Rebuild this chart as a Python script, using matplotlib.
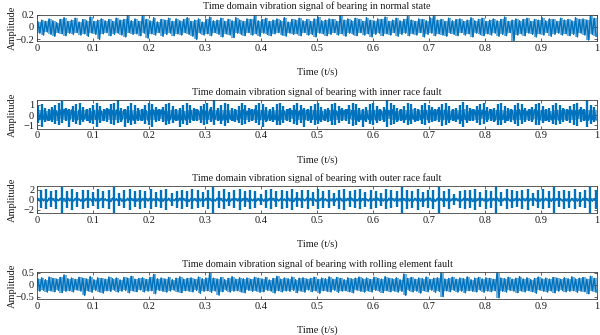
import numpy as np
import matplotlib
matplotlib.use("Agg")
import matplotlib.pyplot as plt
from matplotlib.ticker import FuncFormatter

plt.rcParams["font.family"] = ["Liberation Serif", "DejaVu Serif"]

LINE = "#0072BD"

titles = [
    "Time domain vibration signal of bearing in normal state",
    "Time domain vibration signal of bearing with inner race fault",
    "Time domain vibration signal of bearing with outer race fault",
    "Time domain vibration signal of bearing with rolling element fault",
]
xticks = [0, 0.1, 0.2, 0.3, 0.4, 0.5, 0.6, 0.7, 0.8, 0.9, 1]
yticks = [[-0.2, 0, 0.2], [-1, 0, 1], [-2, 0, 2], [-0.5, 0, 0.5]]
ylims = [(-0.225, 0.2), (-1.33, 1.43), (-2.6, 2.65), (-0.6, 0.53)]

# ---- normal state: positive / negative extremes per 1/150 s window ----
normal_hi = [
    0.08, 0.11, 0.09, 0.13, 0.10, 0.07, 0.12, 0.15, 0.09, 0.11,
    0.14, 0.08, 0.12, 0.10, 0.16, 0.09, 0.11, 0.13, 0.10, 0.12,
    0.09, 0.14, 0.11, 0.12, 0.19, 0.10, 0.13, 0.09, 0.20, 0.12,
    0.10, 0.15, 0.08, 0.12, 0.11, 0.14, 0.09, 0.13, 0.10, 0.12,
    0.15, 0.09, 0.11, 0.13, 0.08, 0.12, 0.16, 0.10, 0.11, 0.14,
    0.09, 0.12, 0.10, 0.15, 0.11, 0.09, 0.13, 0.12, 0.19, 0.10,
    0.12, 0.14, 0.09, 0.11, 0.13, 0.10, 0.15, 0.08, 0.12, 0.11,
    0.14, 0.10, 0.12, 0.09, 0.13, 0.16, 0.10, 0.11, 0.13, 0.12,
    0.09, 0.20, 0.11, 0.13, 0.10, 0.14, 0.12, 0.09, 0.15, 0.11,
    0.10, 0.13, 0.12, 0.16, 0.09, 0.11, 0.14, 0.10, 0.12, 0.17,
    0.11, 0.09, 0.13, 0.12, 0.10, 0.15, 0.20, 0.11, 0.12, 0.09,
    0.14, 0.10, 0.12, 0.13, 0.09, 0.11, 0.15, 0.10, 0.12, 0.14,
    0.09, 0.11, 0.13, 0.10, 0.12, 0.16, 0.09, 0.11, 0.13, 0.10,
    0.12, 0.14, 0.09, 0.12, 0.11, 0.15, 0.10, 0.13, 0.12, 0.09,
    0.14, 0.11, 0.12, 0.10, 0.15, 0.12, 0.13, 0.11, 0.20, 0.14,
]
normal_lo = [
    -0.10, -0.13, -0.08, -0.12, -0.15, -0.09, -0.11, -0.14, -0.10, -0.12,
    -0.09, -0.13, -0.11, -0.15, -0.10, -0.12, -0.20, -0.11, -0.09, -0.14,
    -0.12, -0.10, -0.13, -0.16, -0.09, -0.12, -0.11, -0.14, -0.10, -0.18,
    -0.11, -0.13, -0.09, -0.15, -0.12, -0.10, -0.14, -0.11, -0.13, -0.09,
    -0.12, -0.15, -0.20, -0.10, -0.13, -0.11, -0.14, -0.09, -0.12, -0.16,
    -0.11, -0.13, -0.17, -0.10, -0.12, -0.14, -0.09, -0.13, -0.11, -0.15,
    -0.10, -0.12, -0.14, -0.11, -0.09, -0.13, -0.15, -0.10, -0.12, -0.11,
    -0.14, -0.09, -0.13, -0.12, -0.16, -0.10, -0.11, -0.14, -0.12, -0.09,
    -0.13, -0.11, -0.15, -0.10, -0.12, -0.14, -0.09, -0.13, -0.11, -0.16,
    -0.12, -0.10, -0.14, -0.11, -0.13, -0.09, -0.15, -0.12, -0.10, -0.14,
    -0.11, -0.13, -0.09, -0.16, -0.12, -0.10, -0.14, -0.11, -0.13, -0.15,
    -0.10, -0.12, -0.14, -0.09, -0.13, -0.11, -0.16, -0.10, -0.12, -0.14,
    -0.11, -0.13, -0.10, -0.15, -0.12, -0.14, -0.09, -0.22, -0.13, -0.11,
    -0.14, -0.10, -0.12, -0.16, -0.11, -0.13, -0.09, -0.15, -0.12, -0.10,
    -0.13, -0.11, -0.14, -0.12, -0.16, -0.10, -0.13, -0.21, -0.12, -0.15,
]

# ---- inner race fault: background band and impacts ----
inner_hi = [
    0.45, 0.50, 0.40, 0.48, 0.52, 0.42, 0.47, 0.55, 0.44, 0.49,
    0.41, 0.50, 0.46, 0.53, 0.43, 0.48, 0.51, 0.40, 0.47, 0.54,
    0.44, 0.49, 0.42, 0.50, 0.46, 0.52, 0.41, 0.48, 0.55, 0.43,
    0.47, 0.50, 0.44, 0.51, 0.40, 0.48, 0.53, 0.45, 0.49, 0.42,
    0.50, 0.46, 0.54, 0.43, 0.48, 0.41, 0.52, 0.47, 0.44, 0.50,
    0.45, 0.53, 0.42, 0.49, 0.46, 0.51, 0.40, 0.48, 0.55, 0.44,
    0.47, 0.50, 0.43, 0.52, 0.45, 0.49, 0.41, 0.54, 0.46, 0.48,
    0.42, 0.51, 0.47, 0.44, 0.50, 0.53, 0.43, 0.48, 0.45, 0.52,
    0.40, 0.49, 0.46, 0.55, 0.44, 0.47, 0.51, 0.42, 0.50, 0.45,
    0.48, 0.53, 0.41, 0.49, 0.46, 0.52, 0.43, 0.50, 0.47, 0.44,
    0.54, 0.42, 0.48, 0.51, 0.45, 0.49, 0.40, 0.53, 0.46, 0.50,
    0.43, 0.47, 0.52, 0.44, 0.55, 0.41, 0.48, 0.50, 0.46, 0.49,
    0.42, 0.53, 0.45, 0.47, 0.51, 0.43, 0.50, 0.48, 0.44, 0.52,
    0.46, 0.40, 0.49, 0.54, 0.45, 0.47, 0.51, 0.42, 0.48, 0.50,
    0.44, 0.53, 0.46, 0.49, 0.41, 0.52, 0.47, 0.45, 0.50, 0.48,
]
inner_lo = [
    -0.46, -0.40, -0.52, -0.44, -0.49, -0.55, -0.42, -0.48, -0.51, -0.43,
    -0.50, -0.45, -0.41, -0.53, -0.47, -0.44, -0.49, -0.54, -0.42, -0.48,
    -0.51, -0.45, -0.50, -0.43, -0.47, -0.52, -0.40, -0.49, -0.46, -0.53,
    -0.44, -0.48, -0.50, -0.42, -0.55, -0.46, -0.43, -0.51, -0.47, -0.49,
    -0.41, -0.52, -0.45, -0.48, -0.50, -0.44, -0.53, -0.42, -0.47, -0.51,
    -0.46, -0.43, -0.54, -0.48, -0.40, -0.50, -0.45, -0.52, -0.44, -0.49,
    -0.47, -0.51, -0.42, -0.46, -0.53, -0.48, -0.44, -0.50, -0.41, -0.55,
    -0.45, -0.49, -0.52, -0.43, -0.47, -0.50, -0.46, -0.42, -0.54, -0.48,
    -0.44, -0.51, -0.47, -0.40, -0.49, -0.53, -0.45, -0.48, -0.43, -0.52,
    -0.50, -0.46, -0.44, -0.55, -0.42, -0.48, -0.51, -0.47, -0.45, -0.49,
    -0.43, -0.52, -0.46, -0.41, -0.50, -0.48, -0.54, -0.44, -0.47, -0.51,
    -0.45, -0.49, -0.42, -0.53, -0.46, -0.50, -0.44, -0.48, -0.52, -0.43,
    -0.47, -0.40, -0.51, -0.49, -0.45, -0.54, -0.42, -0.48, -0.46, -0.50,
    -0.44, -0.52, -0.47, -0.43, -0.49, -0.55, -0.45, -0.48, -0.41, -0.51,
    -0.46, -0.50, -0.44, -0.53, -0.47, -0.42, -0.49, -0.52, -0.45, -0.48,
]
inner_hit_start = 0.002     # s, first impact
inner_hit_period = 0.00617  # s, ball pass frequency of the inner race
inner_hit_up = [
    0.9, 1.1, 0.7, 0.6, 0.8, 1.0, 1.2, 1.4, 0.7, 0.6,
    0.9, 1.1, 1.2, 0.8, 0.6, 0.7, 1.0, 1.2, 0.9, 0.6,
    0.7, 1.1, 1.2, 1.5, 0.7, 0.6, 0.9, 1.2, 1.0, 0.7,
    0.6, 1.0, 1.2, 1.1, 0.8, 0.6, 0.8, 1.1, 1.2, 0.9,
    0.6, 0.7, 1.0, 1.2, 1.0, 0.7, 0.6, 0.9, 1.1, 1.2,
    0.8, 1.5, 0.7, 1.0, 1.2, 1.1, 0.7, 0.6, 0.9, 1.2,
    1.0, 0.7, 0.6, 1.0, 1.2, 1.1, 0.8, 0.6, 0.8, 1.1,
    1.2, 0.9, 0.6, 0.7, 1.0, 1.2, 1.0, 0.7, 0.6, 0.9,
    1.1, 1.2, 0.8, 0.6, 0.7, 1.1, 1.2, 0.9, 0.7, 0.6,
    1.0, 1.2, 1.1, 0.7, 0.6, 0.8, 1.1, 1.2, 0.9, 0.6,
    0.8, 1.5, 1.2, 1.0, 0.7, 0.6, 0.9, 1.2, 1.1, 0.7,
    0.6, 1.0, 1.2, 1.0, 0.8, 0.6, 0.8, 1.1, 1.2, 0.9,
    0.6, 0.7, 1.0, 1.3, 1.0, 0.7, 0.6, 0.9, 1.1, 1.2,
    0.8, 0.6, 0.7, 1.1, 1.2, 0.9, 0.7, 0.6, 1.0, 1.2,
    1.1, 0.7, 0.6, 0.8, 1.1, 1.2, 0.9, 0.6, 0.7, 1.0,
    1.2, 1.0, 0.7, 0.6, 0.9, 1.1, 1.2, 0.8, 0.6, 1.5,
    1.0, 0.8,
]
inner_hit_dn = [
    -0.8, -1.2, -0.7, -0.6, -0.7, -0.9, -1.0, -0.8, -0.6, -1.2,
    -0.7, -0.9, -1.0, -0.7, -0.6, -0.8, -0.9, -1.2, -0.8, -0.6,
    -0.7, -0.9, -1.0, -0.8, -0.7, -1.2, -0.8, -1.0, -0.9, -0.6,
    -0.6, -0.9, -1.0, -1.2, -0.7, -0.6, -0.7, -1.0, -0.9, -0.8,
    -0.6, -1.2, -0.9, -1.0, -0.8, -0.6, -0.6, -0.8, -1.0, -0.9,
    -0.7, -1.0, -0.6, -0.9, -1.1, -0.8, -0.6, -0.7, -0.8, -1.0,
    -0.9, -0.7, -0.6, -0.8, -1.0, -1.2, -0.7, -0.6, -0.7, -1.0,
    -1.0, -0.8, -0.6, -0.7, -0.9, -1.0, -0.8, -1.2, -0.6, -0.8,
    -1.0, -0.9, -0.7, -0.6, -0.7, -1.0, -1.0, -0.8, -0.6, -0.6,
    -0.9, -1.1, -1.0, -0.7, -1.2, -0.7, -0.9, -1.0, -0.8, -0.6,
    -0.7, -1.2, -1.0, -0.9, -0.7, -0.6, -0.8, -1.0, -0.9, -0.7,
    -0.6, -0.9, -1.0, -0.8, -0.7, -0.6, -0.7, -1.1, -1.0, -0.8,
    -0.6, -0.7, -0.9, -1.2, -0.8, -0.6, -0.6, -0.8, -1.0, -0.9,
    -0.7, -0.6, -0.7, -1.0, -1.0, -0.8, -0.6, -0.7, -0.9, -1.1,
    -0.9, -0.7, -0.6, -0.7, -1.0, -1.0, -0.8, -0.6, -0.7, -0.9,
    -1.0, -0.9, -0.7, -0.6, -0.8, -1.0, -1.1, -0.7, -0.6, -1.2,
    -0.9, -0.7,
]

# ---- outer race fault: background band and impacts ----
outer_hi = [
    0.25, 0.30, 0.22, 0.35, 0.28, 0.20, 0.32, 0.26, 0.38, 0.24,
    0.29, 0.21, 0.33, 0.27, 0.23, 0.36, 0.25, 0.30, 0.22, 0.28,
    0.34, 0.24, 0.27, 0.20, 0.31, 0.26, 0.37, 0.23, 0.29, 0.25,
    0.32, 0.21, 0.28, 0.35, 0.24, 0.30, 0.22, 0.27, 0.33, 0.26,
    0.20, 0.29, 0.25, 0.36, 0.23, 0.31, 0.27, 0.22, 0.34, 0.28,
    0.24, 0.30, 0.21, 0.26, 0.38, 0.25, 0.29, 0.23, 0.32, 0.27,
    0.22, 0.35, 0.26, 0.30, 0.24, 0.28, 0.20, 0.33, 0.25, 0.31,
    0.27, 0.23, 0.36, 0.29, 0.22, 0.26, 0.34, 0.24, 0.30, 0.21,
    0.28, 0.32, 0.25, 0.27, 0.37, 0.23, 0.29, 0.26, 0.20, 0.31,
    0.24, 0.33, 0.28, 0.22, 0.30, 0.26, 0.35, 0.23, 0.27, 0.29,
    0.21, 0.32, 0.25, 0.28, 0.24, 0.36, 0.22, 0.30, 0.27, 0.26,
    0.33, 0.23, 0.29, 0.20, 0.31, 0.25, 0.28, 0.34, 0.24, 0.27,
    0.30, 0.22, 0.26, 0.37, 0.25, 0.29, 0.23, 0.32, 0.27, 0.21,
    0.28, 0.35, 0.24, 0.30, 0.26, 0.22, 0.33, 0.25, 0.29, 0.27,
    0.23, 0.31, 0.20, 0.28, 0.36, 0.24, 0.30, 0.26, 0.32, 0.25,
]
outer_lo = [
    -0.27, -0.22, -0.33, -0.25, -0.30, -0.21, -0.28, -0.36, -0.24, -0.29,
    -0.23, -0.31, -0.26, -0.20, -0.34, -0.27, -0.24, -0.30, -0.22, -0.37,
    -0.25, -0.28, -0.32, -0.23, -0.26, -0.21, -0.29, -0.35, -0.24, -0.27,
    -0.30, -0.22, -0.26, -0.33, -0.25, -0.28, -0.20, -0.31, -0.27, -0.23,
    -0.36, -0.24, -0.29, -0.26, -0.22, -0.32, -0.25, -0.28, -0.21, -0.30,
    -0.27, -0.34, -0.23, -0.26, -0.29, -0.24, -0.38, -0.22, -0.28, -0.25,
    -0.31, -0.26, -0.20, -0.33, -0.27, -0.23, -0.30, -0.25, -0.35, -0.22,
    -0.28, -0.24, -0.29, -0.26, -0.32, -0.21, -0.27, -0.30, -0.23, -0.36,
    -0.25, -0.28, -0.22, -0.31, -0.26, -0.24, -0.34, -0.27, -0.29, -0.23,
    -0.30, -0.20, -0.26, -0.33, -0.25, -0.28, -0.22, -0.37, -0.24, -0.27,
    -0.29, -0.23, -0.31, -0.26, -0.21, -0.28, -0.35, -0.25, -0.30, -0.24,
    -0.27, -0.32, -0.22, -0.26, -0.29, -0.24, -0.36, -0.23, -0.28, -0.25,
    -0.30, -0.27, -0.21, -0.33, -0.26, -0.24, -0.29, -0.22, -0.31, -0.28,
    -0.25, -0.34, -0.23, -0.27, -0.30, -0.26, -0.20, -0.32, -0.24, -0.29,
    -0.27, -0.22, -0.35, -0.25, -0.28, -0.31, -0.23, -0.26, -0.30, -0.24,
]
outer_hit_start = 0.0065    # s, first impact
outer_hit_period = 0.00935  # s, ball pass frequency of the outer race
outer_hit_up = [
    1.9, 2.1, 1.7, 2.0, 2.6, 1.8, 2.2, 1.6, 2.0, 1.9,
    1.5, 2.1, 1.8, 2.0, 2.6, 1.3, 1.9, 2.2, 1.7, 2.0,
    1.8, 2.1, 1.6, 1.9, 2.2, 1.4, 1.8, 2.0, 1.7, 2.1,
    1.9, 1.6, 2.0, 2.6, 1.8, 2.1, 1.5, 1.9, 2.2, 1.7,
    2.0, 1.8, 1.2, 1.9, 2.1, 1.7, 2.0, 1.8, 2.2, 1.6,
    1.9, 2.0, 1.5, 2.1, 1.8, 1.9, 1.3, 2.0, 2.2, 1.7,
    1.9, 2.1, 1.6, 2.0, 1.8, 1.4, 2.1, 1.9, 1.7, 2.6,
    2.0, 1.8, 2.2, 1.6, 1.9, 2.0, 2.6, 1.7, 2.1, 1.2,
    1.8, 2.0, 1.9, 2.2, 1.6, 2.0, 1.8, 2.6, 1.5, 2.1,
    1.9, 1.7, 2.0, 2.2, 1.4, 1.9, 2.1, 1.8, 2.6, 1.7,
    2.0, 1.8, 2.1, 1.6, 1.9, 2.6, 2.0,
]
outer_hit_dn = [
    -1.7, -1.9, -1.5, -1.8, -2.6, -1.6, -2.0, -1.4, -1.8, -1.7,
    -1.3, -1.9, -1.6, -1.8, -2.6, -1.2, -1.7, -2.0, -1.5, -1.8,
    -1.6, -1.9, -1.4, -1.7, -2.0, -1.2, -1.6, -1.8, -1.5, -1.9,
    -1.7, -1.4, -1.8, -2.6, -1.6, -1.9, -1.3, -1.7, -2.0, -1.5,
    -1.8, -1.6, -1.1, -1.7, -1.9, -1.5, -1.8, -1.6, -2.0, -1.4,
    -1.7, -1.8, -1.3, -1.9, -1.6, -1.7, -1.2, -1.8, -2.0, -1.5,
    -1.7, -1.9, -1.4, -1.8, -1.6, -1.2, -1.9, -1.7, -1.5, -2.6,
    -1.8, -1.6, -2.0, -1.4, -1.7, -1.8, -2.6, -1.5, -1.9, -1.1,
    -1.6, -1.8, -1.7, -2.0, -1.4, -1.8, -1.6, -2.6, -1.3, -1.9,
    -1.7, -1.5, -1.8, -2.0, -1.2, -1.7, -1.9, -1.6, -2.6, -1.5,
    -1.8, -1.6, -1.9, -1.4, -1.7, -2.6, -1.8,
]

# ---- rolling element fault: positive / negative extremes per window ----
ball_hi = [
    0.25, 0.30, 0.22, 0.33, 0.27, 0.24, 0.31, 0.42, 0.26, 0.29,
    0.23, 0.32, 0.28, 0.25, 0.35, 0.22, 0.30, 0.27, 0.24, 0.33,
    0.26, 0.29, 0.21, 0.31, 0.28, 0.36, 0.24, 0.27, 0.30, 0.23,
    0.32, 0.44, 0.26, 0.29, 0.25, 0.31, 0.22, 0.28, 0.34, 0.24,
    0.27, 0.30, 0.23, 0.33, 0.26, 0.29, 0.50, 0.28, 0.25, 0.31,
    0.22, 0.27, 0.35, 0.24, 0.30, 0.26, 0.29, 0.23, 0.32, 0.28,
    0.25, 0.31, 0.21, 0.27, 0.36, 0.24, 0.29, 0.26, 0.33, 0.22,
    0.28, 0.30, 0.25, 0.27, 0.32, 0.23, 0.29, 0.26, 0.34, 0.24,
    0.31, 0.27, 0.22, 0.30, 0.25, 0.28, 0.33, 0.26, 0.29, 0.23,
    0.32, 0.27, 0.24, 0.35, 0.28, 0.25, 0.30, 0.22, 0.46, 0.27,
    0.31, 0.24, 0.29, 0.26, 0.33, 0.23, 0.28, 0.30, 0.52, 0.25,
    0.27, 0.32, 0.24, 0.29, 0.26, 0.34, 0.22, 0.28, 0.31, 0.25,
    0.30, 0.27, 0.23, 0.52, 0.29, 0.26, 0.32, 0.24, 0.28, 0.35,
    0.25, 0.30, 0.22, 0.27, 0.33, 0.26, 0.29, 0.24, 0.31, 0.28,
    0.23, 0.30, 0.26, 0.34, 0.25, 0.28, 0.31, 0.24, 0.36, 0.27,
]
ball_lo = [
    -0.27, -0.23, -0.31, -0.26, -0.29, -0.24, -0.33, -0.28, -0.25, -0.30,
    -0.22, -0.27, -0.45, -0.26, -0.32, -0.24, -0.29, -0.35, -0.25, -0.28,
    -0.23, -0.31, -0.27, -0.24, -0.34, -0.26, -0.29, -0.22, -0.30, -0.27,
    -0.25, -0.38, -0.24, -0.28, -0.31, -0.26, -0.23, -0.29, -0.33, -0.25,
    -0.27, -0.30, -0.24, -0.36, -0.28, -0.25, -0.32, -0.26, -0.44, -0.29,
    -0.23, -0.31, -0.27, -0.25, -0.30, -0.34, -0.24, -0.28, -0.26, -0.32,
    -0.29, -0.23, -0.27, -0.35, -0.25, -0.30, -0.26, -0.28, -0.24, -0.33,
    -0.27, -0.31, -0.22, -0.29, -0.26, -0.36, -0.25, -0.28, -0.30, -0.24,
    -0.32, -0.27, -0.25, -0.29, -0.34, -0.23, -0.28, -0.31, -0.26, -0.30,
    -0.24, -0.27, -0.33, -0.25, -0.29, -0.26, -0.31, -0.28, -0.45, -0.24,
    -0.30, -0.27, -0.35, -0.25, -0.29, -0.23, -0.32, -0.28, -0.50, -0.26,
    -0.29, -0.24, -0.31, -0.27, -0.34, -0.25, -0.28, -0.30, -0.23, -0.32,
    -0.26, -0.29, -0.25, -0.55, -0.28, -0.31, -0.24, -0.27, -0.33, -0.26,
    -0.30, -0.25, -0.29, -0.36, -0.23, -0.28, -0.31, -0.26, -0.34, -0.27,
    -0.24, -0.30, -0.28, -0.25, -0.32, -0.27, -0.29, -0.38, -0.26, -0.31,
]

panels = [
    dict(hi=normal_hi, lo=normal_lo),
    dict(hi=inner_hi, lo=inner_lo, t0=inner_hit_start,
         dt=inner_hit_period, up=inner_hit_up, dn=inner_hit_dn),
    dict(hi=outer_hi, lo=outer_lo, t0=outer_hit_start,
         dt=outer_hit_period, up=outer_hit_up, dn=outer_hit_dn),
    dict(hi=ball_hi, lo=ball_lo),
]

# axes boxes in figure fraction: left, bottom, width, height
boxes = [
    (0.0617, 0.8776, 0.9333, 0.0791),
    (0.0617, 0.6158, 0.9333, 0.0848),
    (0.0617, 0.3642, 0.9333, 0.0797),
    (0.0617, 0.1075, 0.9333, 0.0797),
]

fmt = FuncFormatter(lambda v, _: f"{v:g}".replace("-", "\u2212"))
TXT = "#1a1a1a"

fig = plt.figure(figsize=(6.0, 3.35), dpi=100)
for k, p in enumerate(panels):
    ax = fig.add_axes(boxes[k])
    hi = np.asarray(p["hi"])
    lo = np.asarray(p["lo"])
    n = len(hi)
    edges = np.arange(n + 1) / n
    # envelope of each window (dense sampling fills the band)
    ax.stairs(hi, edges, baseline=lo, fill=True, color=LINE, alpha=0.55,
              lw=0)
    # alternate each window's maximum and minimum to trace the waveform
    t = np.empty(2 * n)
    y = np.empty(2 * n)
    t[0::2] = (np.arange(n) + 0.25) / n
    t[1::2] = (np.arange(n) + 0.75) / n
    y[0::2] = hi
    y[1::2] = lo
    ax.plot(t, y, color=LINE, lw=1.0)
    if "up" in p:
        th = p["t0"] + p["dt"] * np.arange(len(p["up"]))
        ax.vlines(th, p["dn"], p["up"], color=LINE, lw=1.7)

    ax.set_xlim(0, 1)
    ax.set_ylim(*ylims[k])
    ax.set_xticks(xticks)
    ax.set_yticks(yticks[k])
    ax.xaxis.set_major_formatter(fmt)
    ax.yaxis.set_major_formatter(fmt)
    ax.tick_params(direction="in", length=2, width=0.5, labelsize=7.5,
                   pad=2, top=True, right=True, colors="#262626")
    ax.tick_params(labelcolor=TXT)
    for s in ax.spines.values():
        s.set_linewidth(0.6)
        s.set_color("#404040")
    ax.set_title(titles[k], fontsize=7.3, pad=4, color=TXT)
    ax.set_xlabel("Time (t/s)", fontsize=7.5, labelpad=10.5, color=TXT)
    ax.set_ylabel("Amplitude", fontsize=7.5, color=TXT)
    ax.yaxis.set_label_coords(-0.036, 0.5)

fig.savefig("out.png", dpi=100)
